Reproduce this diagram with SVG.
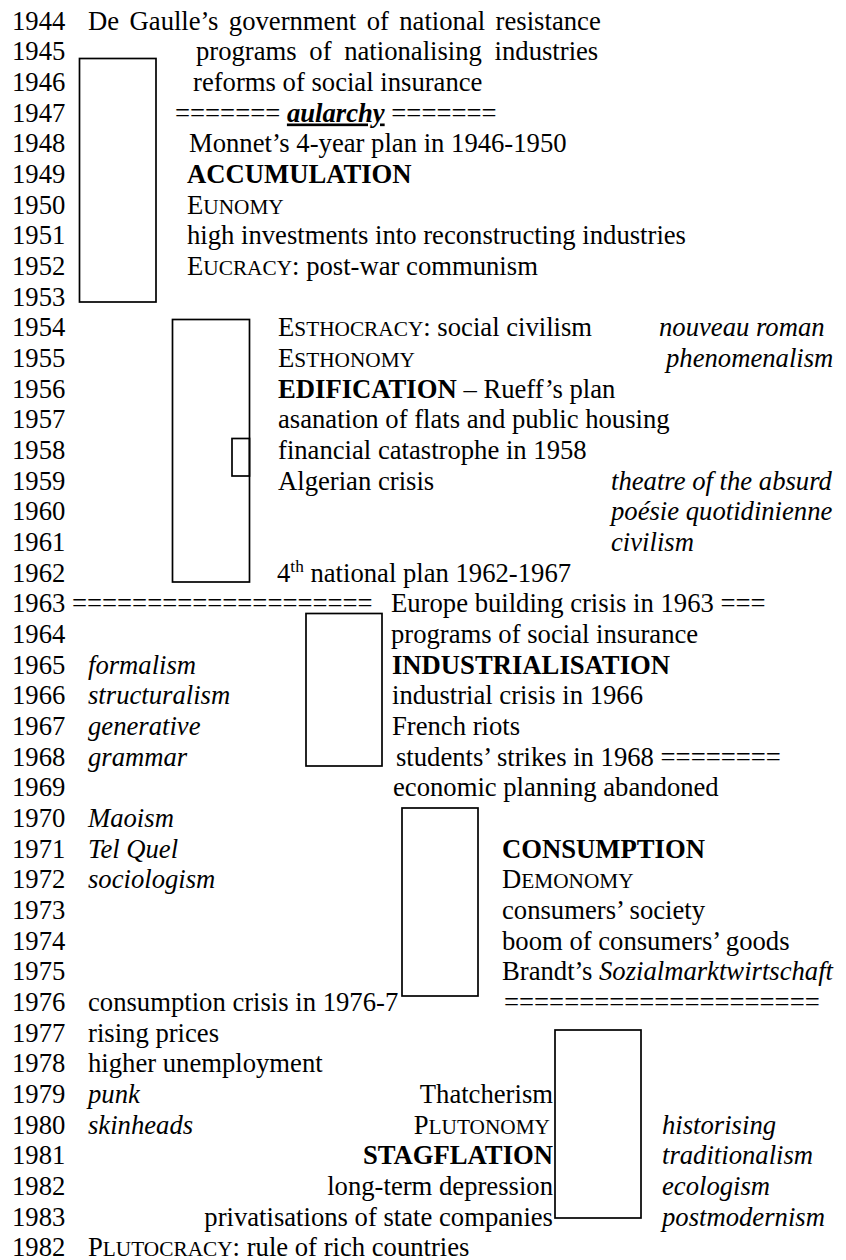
<svg xmlns="http://www.w3.org/2000/svg" width="846" height="1260" viewBox="0 0 846 1260">
  <style>
    text { font-family: "Liberation Serif", "Times New Roman", serif; font-size: 26.67px; fill: #000; }
    .i { font-style: italic; }
    .b { font-weight: bold; }
    .sc { font-size: 21.3px; }
    .r { text-anchor: end; }
    .box { fill: none; stroke: #000; stroke-width: 1.7; }
  </style>
  <rect width="846" height="1260" fill="#fff"/>

  <!-- year column -->
  <g id="years">
    <text x="12" y="29.5">1944</text>
    <text x="12" y="60.2">1945</text>
    <text x="12" y="90.8">1946</text>
    <text x="12" y="121.5">1947</text>
    <text x="12" y="152.2">1948</text>
    <text x="12" y="182.9">1949</text>
    <text x="12" y="213.5">1950</text>
    <text x="12" y="244.2">1951</text>
    <text x="12" y="274.9">1952</text>
    <text x="12" y="305.5">1953</text>
    <text x="12" y="336.2">1954</text>
    <text x="12" y="366.9">1955</text>
    <text x="12" y="397.5">1956</text>
    <text x="12" y="428.2">1957</text>
    <text x="12" y="458.9">1958</text>
    <text x="12" y="489.6">1959</text>
    <text x="12" y="520.2">1960</text>
    <text x="12" y="550.9">1961</text>
    <text x="12" y="581.6">1962</text>
    <text x="12" y="612.2">1963 ====================</text>
    <text x="12" y="642.9">1964</text>
    <text x="12" y="673.6">1965</text>
    <text x="12" y="704.2">1966</text>
    <text x="12" y="734.9">1967</text>
    <text x="12" y="765.6">1968</text>
    <text x="12" y="796.3">1969</text>
    <text x="12" y="826.9">1970</text>
    <text x="12" y="857.6">1971</text>
    <text x="12" y="888.3">1972</text>
    <text x="12" y="918.9">1973</text>
    <text x="12" y="949.6">1974</text>
    <text x="12" y="980.3">1975</text>
    <text x="12" y="1010.9">1976</text>
    <text x="12" y="1041.6">1977</text>
    <text x="12" y="1072.3">1978</text>
    <text x="12" y="1102.9">1979</text>
    <text x="12" y="1133.6">1980</text>
    <text x="12" y="1164.3">1981</text>
    <text x="12" y="1194.9">1982</text>
    <text x="12" y="1225.6">1983</text>
    <text x="12" y="1256.3">1982</text>
  </g>

  <!-- 1944-1953: accumulation -->
  <g id="period-accumulation">
    <rect class="box" x="79.5" y="58.5" width="76.5" height="243.5"/>
    <text x="88" y="29.5" word-spacing="3.8">De Gaulle’s government of national resistance</text>
    <text x="196" y="60.2" word-spacing="6">programs of nationalising industries</text>
    <text x="193" y="90.8">reforms of social insurance</text>
    <text x="175" y="121.5">======= <tspan class="b i" text-decoration="underline">aularchy</tspan> =======</text>
    <text x="189" y="152.2">Monnet’s 4-year plan in 1946-1950</text>
    <text x="187" y="182.9" class="b">ACCUMULATION</text>
    <text x="187" y="213.5">E<tspan class="sc">UNOMY</tspan></text>
    <text x="187" y="244.2">high investments into reconstructing industries</text>
    <text x="187" y="274.9">E<tspan class="sc">UCRACY</tspan>: post-war communism</text>
  </g>

  <!-- 1954-1962: edification -->
  <g id="period-edification">
    <rect class="box" x="172.5" y="319.5" width="77" height="262.5"/>
    <rect class="box" x="232" y="438.5" width="17.5" height="37.5"/>
    <text x="278" y="336.2">E<tspan class="sc">STHOCRACY</tspan>: social civilism</text>
    <text x="659" y="336.2" class="i">nouveau roman</text>
    <text x="278" y="366.9">E<tspan class="sc">STHONOMY</tspan></text>
    <text x="666" y="366.9" class="i">phenomenalism</text>
    <text x="278" y="397.5"><tspan class="b">EDIFICATION</tspan> – Rueff’s plan</text>
    <text x="278" y="428.2">asanation of flats and public housing</text>
    <text x="278" y="458.9">financial catastrophe in 1958</text>
    <text x="278" y="489.6">Algerian crisis</text>
    <text x="611" y="489.6" class="i">theatre of the absurd</text>
    <text x="611" y="520.2" class="i">poésie quotidinienne</text>
    <text x="611" y="550.9" class="i">civilism</text>
    <text x="277" y="581.6">4<tspan font-size="17.3" dy="-10">th</tspan><tspan dy="10"> national plan 1962-1967</tspan></text>
  </g>

  <!-- 1963-1969: industrialisation -->
  <g id="period-industrialisation">
    <rect class="box" x="306" y="613.5" width="76" height="152.5"/>
    <text x="391" y="612.2">Europe building crisis in 1963 ===</text>
    <text x="391" y="642.9">programs of social insurance</text>
    <text x="88" y="673.6" class="i">formalism</text>
    <text x="392" y="673.6" class="b">INDUSTRIALISATION</text>
    <text x="88" y="704.2" class="i">structuralism</text>
    <text x="392" y="704.2">industrial crisis in 1966</text>
    <text x="88" y="734.9" class="i">generative</text>
    <text x="392" y="734.9">French riots</text>
    <text x="88" y="765.6" class="i">grammar</text>
    <text x="396" y="765.6">students’ strikes in 1968 ========</text>
    <text x="393" y="796.3">economic planning abandoned</text>
  </g>

  <!-- 1970-1976: consumption -->
  <g id="period-consumption">
    <rect class="box" x="402" y="808" width="76" height="188"/>
    <text x="88" y="826.9" class="i">Maoism</text>
    <text x="88" y="857.6" class="i">Tel Quel</text>
    <text x="502" y="857.6" class="b">CONSUMPTION</text>
    <text x="88" y="888.3" class="i">sociologism</text>
    <text x="502" y="888.3">D<tspan class="sc">EMONOMY</tspan></text>
    <text x="502" y="918.9">consumers’ society</text>
    <text x="502" y="949.6">boom of consumers’ goods</text>
    <text x="502" y="980.3">Brandt’s <tspan class="i">Sozialmarktwirtschaft</tspan></text>
    <text x="88" y="1010.9">consumption crisis in 1976-7</text>
    <text x="504" y="1010.9">=====================</text>
  </g>

  <!-- 1977-1983: stagflation -->
  <g id="period-stagflation">
    <rect class="box" x="555" y="1030" width="86" height="188"/>
    <text x="88" y="1041.6">rising prices</text>
    <text x="88" y="1072.3">higher unemployment</text>
    <text x="88" y="1102.9" class="i">punk</text>
    <text x="553" y="1102.9" class="r">Thatcherism</text>
    <text x="88" y="1133.6" class="i">skinheads</text>
    <text x="550" y="1133.6" class="r">P<tspan class="sc">LUTONOMY</tspan></text>
    <text x="662" y="1133.6" class="i">historising</text>
    <text x="553" y="1164.3" class="r b">STAGFLATION</text>
    <text x="662" y="1164.3" class="i">traditionalism</text>
    <text x="553" y="1194.9" class="r">long-term depression</text>
    <text x="662" y="1194.9" class="i">ecologism</text>
    <text x="553" y="1225.6" class="r">privatisations of state companies</text>
    <text x="662" y="1225.6" class="i">postmodernism</text>
    <text x="88" y="1256.3">P<tspan class="sc">LUTOCRACY</tspan>: rule of rich countries</text>
  </g>

  <!-- no connectors in this timeline -->
  <g id="connectors"/>
</svg>
